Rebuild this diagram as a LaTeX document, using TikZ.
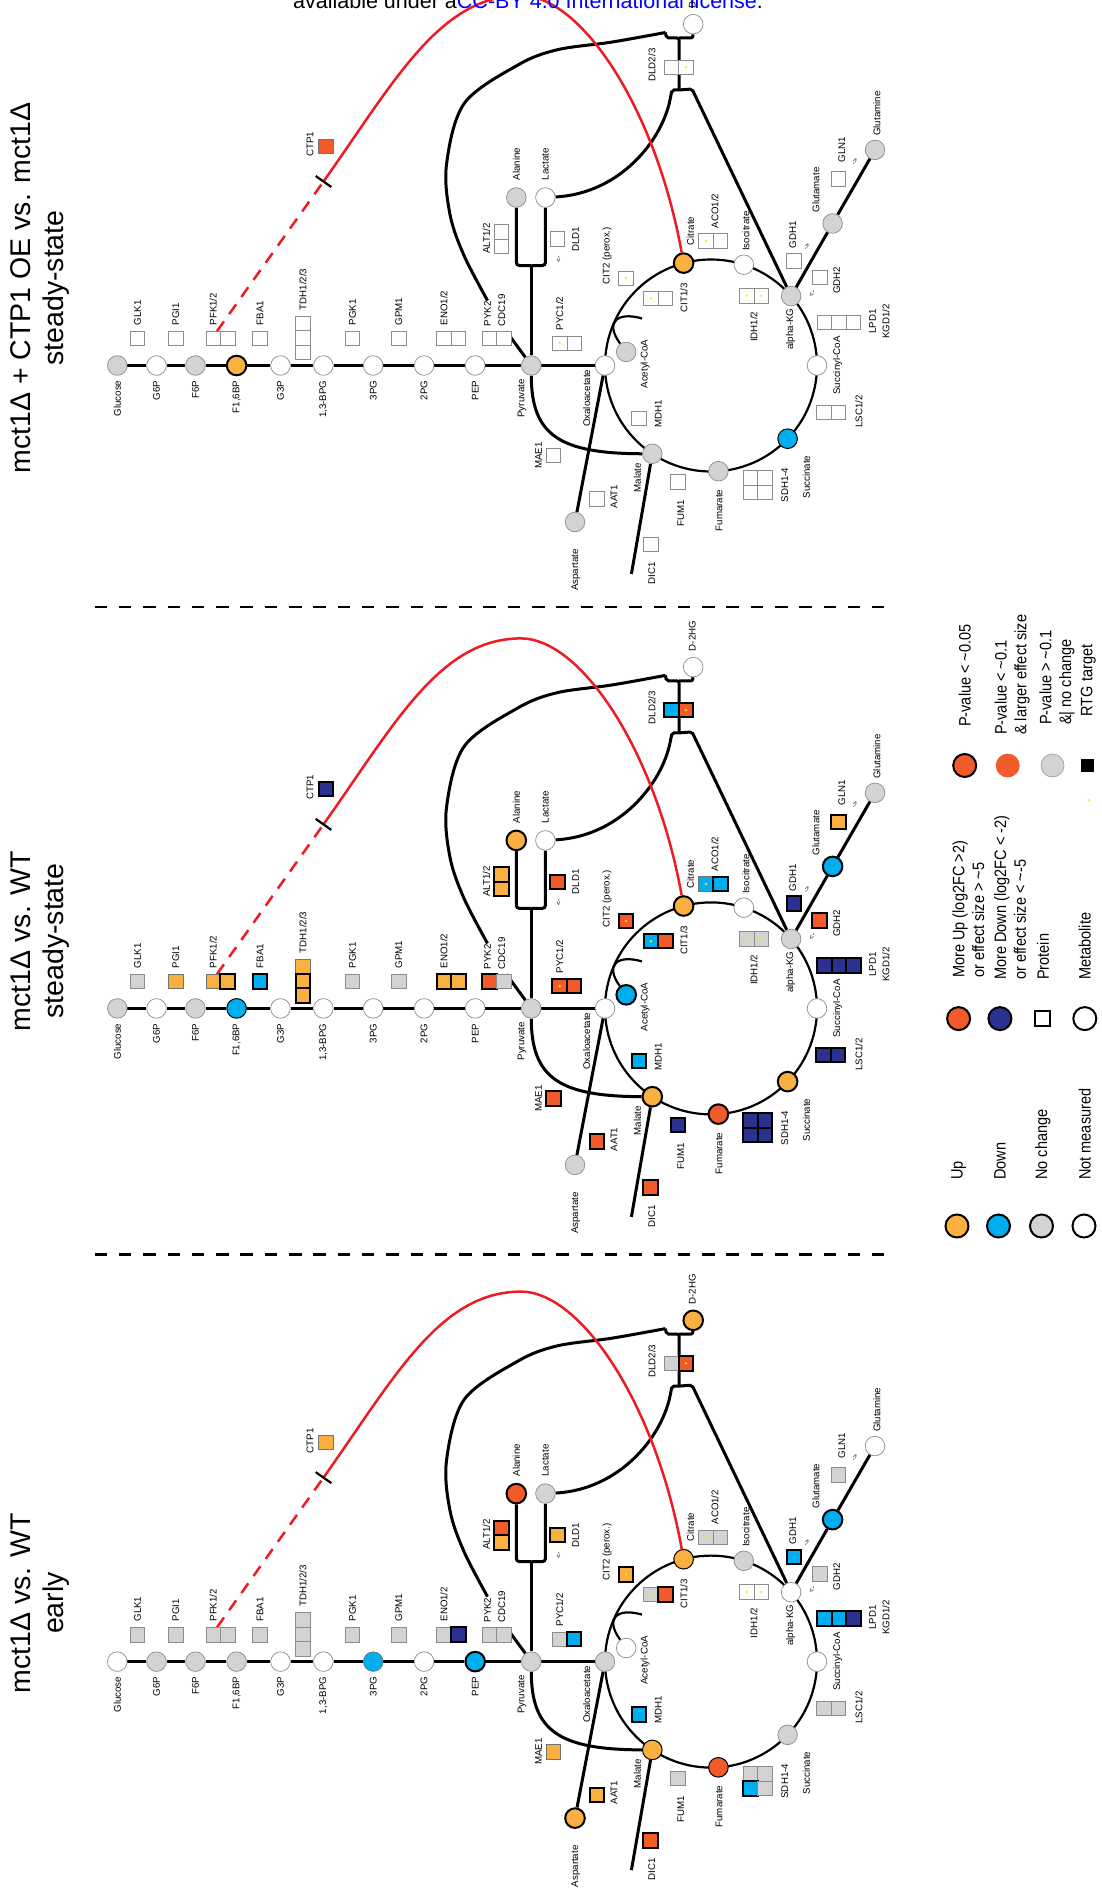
\documentclass[tikz,border=0pt]{standalone}
\usepackage{fontspec}
\setmainfont{Liberation Sans}
\newfontfamily\legfont[FakeStretch=0.88]{Liberation Sans}
\usetikzlibrary{calc}
\pgfdeclarelayer{bg}
\pgfsetlayers{bg,main}

\definecolor{cUp}{RGB}{250,176,64}
\definecolor{cDown}{RGB}{0,174,239}
\definecolor{cNC}{RGB}{209,211,212}
\definecolor{cMUp}{RGB}{241,90,41}
\definecolor{cMDown}{RGB}{43,49,143}
\definecolor{cRed}{RGB}{237,28,36}
\definecolor{cRTG}{RGB}{255,236,0}
\definecolor{cEdge}{RGB}{140,140,140}

\tikzset{
  met/.style={circle, minimum size=19.6pt, inner sep=0pt, draw=cEdge, line width=0.7pt, fill=white},
  prot/.style={rectangle, minimum size=14.5pt, inner sep=0pt, draw=cEdge, line width=0.7pt, fill=white},
  stG/.style={fill=cNC},
  stU/.style={fill=cUp, draw=black!55},
  stD/.style={fill=cDown, draw=black!55},
  stR/.style={fill=cMUp, draw=black!55},
  stN/.style={fill=cMDown, draw=black!55},
  sg/.style={draw=black, line width=2pt},
  thn/.style={draw=black, line width=1pt},
  Us/.style={stU,sg}, Ds/.style={stD,sg}, Rs/.style={stR,sg}, Ns/.style={stN,sg},
  lab/.style={rotate=90, inner sep=0pt, font=\fontsize{9.7}{11}\selectfont},
  arw/.style={inner sep=0pt, font=\fontsize{7}{8}\selectfont},
  ln/.style={line width=3pt},
  cyc/.style={line width=2.2pt},
  ctp/.style={draw=cRed, line width=2.5pt},
  rtg/.style={circle, fill=cRTG, inner sep=0pt, minimum size=2.6pt},
  sepline/.style={line width=2.6pt, dash pattern=on 12.5pt off 11.8pt},
  ttl/.style={rotate=90, inner sep=0pt, align=center, font=\fontsize{28.5}{33}\selectfont},
  leg/.style={rotate=90, inner sep=0pt, font=\legfont\fontsize{16.5}{19.6}\selectfont},
  lgc/.style={circle, minimum size=23pt, inner sep=0pt, line width=2pt, draw=black},
  % default state of every metabolite and protein: not measured
  sGlc/.style={}, sG6P/.style={}, sF6P/.style={}, sFBP/.style={}, sG3P/.style={},
  sBPG/.style={}, sPGc/.style={}, sPGb/.style={}, sPEP/.style={}, sPyr/.style={},
  sAla/.style={}, sLac/.style={}, sDHG/.style={}, sCit/.style={}, sIcit/.style={},
  sAKG/.style={}, sSCoA/.style={}, sSucc/.style={}, sFum/.style={}, sMal/.style={},
  sOAA/.style={}, sACoA/.style={}, sGlu/.style={}, sGln/.style={}, sAsp/.style={},
  sGLK/.style={}, sPGI/.style={}, sPFKa/.style={}, sPFKb/.style={}, sFBA/.style={},
  sTDHa/.style={}, sTDHb/.style={}, sTDHc/.style={}, sPGK/.style={}, sGPM/.style={},
  sENOa/.style={}, sENOb/.style={}, sPYK/.style={}, sCDC/.style={}, sCTP/.style={},
  sALTa/.style={}, sALTb/.style={}, sDLDo/.style={}, sPYCa/.style={}, sPYCb/.style={},
  sCITt/.style={}, sCITa/.style={}, sCITb/.style={}, sACOa/.style={}, sACOb/.style={},
  sIDHa/.style={}, sIDHb/.style={}, sGDHo/.style={}, sGDHt/.style={}, sGLN/.style={},
  sKGDa/.style={}, sKGDb/.style={}, sKGDc/.style={}, sLSCa/.style={}, sLSCb/.style={},
  sSDHa/.style={}, sSDHb/.style={}, sSDHc/.style={}, sSDHd/.style={}, sFUM/.style={},
  sMDH/.style={}, sMAE/.style={}, sAAT/.style={}, sDIC/.style={}, sDLDa/.style={},
  sDLDb/.style={},
}

% one pathway map; y is measured from the glycolysis line
\newcommand\pathwaypanel{%
  % metabolites
  \node[met,sGlc] (Glc) at (117.3,0) {};
  \node[met,sG6P] (G6P) at (156.5,0) {};
  \node[met,sF6P] (F6P) at (195.5,0) {};
  \node[met,sFBP] (FBP) at (236.6,0) {};
  \node[met,sG3P] (G3P) at (280.5,0) {};
  \node[met,sBPG] (BPG) at (323.4,0) {};
  \node[met,sPGc] (PGc) at (373.2,0) {};
  \node[met,sPGb] (PGb) at (424.1,0) {};
  \node[met,sPEP] (PEP) at (475.2,0) {};
  \node[met,sPyr] (Pyr) at (531.3,0) {};
  \node[met,sAla] (Ala) at (516.3,-168) {};
  \node[met,sLac] (Lac) at (545.4,-168) {};
  \node[met,sDHG] (DHG) at (693.2,-341.3) {};
  \node[met,sCit] (Cit) at (683.6,-102.4) {};
  \node[met,sIcit] (Icit) at (743.8,-100.8) {};
  \node[met,sAKG] (AKG) at (791.1,-69.4) {};
  \node[met,sSCoA] (SCoA) at (817,0) {};
  \node[met,sSucc] (Succ) at (787.6,73.2) {};
  \node[met,sFum] (Fum) at (718.4,105.7) {};
  \node[met,sMal] (Mal) at (652.3,88.3) {};
  \node[met,sOAA] (OAA) at (605,0) {};
  \node[met,sACoA] (ACoA) at (626.2,-13.6) {};
  \node[met,sGlu] (Glu) at (832.6,-142) {};
  \node[met,sGln] (Gln) at (875,-215.6) {};
  \node[met,sAsp] (Asp) at (575,156.5) {};
  % metabolite names
  \node[lab,anchor=east] (Glc-t) at (117.3,15) {Glucose};
  \node[lab,anchor=east] (G6P-t) at (156.5,15) {G6P};
  \node[lab,anchor=east] (F6P-t) at (195.5,15) {F6P};
  \node[lab,anchor=east] (FBP-t) at (236.6,15) {F1,6BP};
  \node[lab,anchor=east] (G3P-t) at (280.5,15) {G3P};
  \node[lab,anchor=east] (BPG-t) at (323.4,15) {1,3-BPG};
  \node[lab,anchor=east] (PGc-t) at (373.2,15) {3PG};
  \node[lab,anchor=east] (PGb-t) at (424.1,15) {2PG};
  \node[lab,anchor=east] (PEP-t) at (475.2,15) {PEP};
  \node[lab,anchor=east] (Pyr-t) at (522,13.5) {Pyruvate};
  \node[lab,anchor=west] (Ala-t) at (516.3,-185) {Alanine};
  \node[lab,anchor=west] (Lac-t) at (545.4,-185) {Lactate};
  \node[lab,anchor=west] (DHG-t) at (692.3,-357) {D-2HG};
  \node[lab,anchor=west] (Cit-t) at (690.5,-120) {Citrate};
  \node[lab,anchor=west] (Icit-t) at (746,-114.5) {Isocitrate};
  \node[lab,anchor=east] (AKG-t) at (790.5,-57) {alpha-KG};
  \node[lab] (SCoA-t) at (837.5,0) {Succinyl-CoA};
  \node[lab,anchor=east] (Succ-t) at (806.3,90) {Succinate};
  \node[lab,anchor=east] (Fum-t) at (719.2,124) {Fumarate};
  \node[lab,anchor=east] (Mal-t) at (637.5,97.5) {Malate};
  \node[lab,anchor=east] (OAA-t) at (586.6,4) {Oxaloacetate};
  \node[lab] (ACoA-t) at (645,-1.4) {Acetyl-CoA};
  \node[lab,anchor=west] (Glu-t) at (816,-153) {Glutamate};
  \node[lab,anchor=west] (Gln-t) at (877,-229.6) {Glutamine};
  \node[lab,anchor=east] (Asp-t) at (575.8,183.7) {Aspartate};
  % enzymes
  \node[prot,sGLK] (GLK) at (137.5,-27) {};
  \node[prot,sPGI] (PGI) at (175.7,-27) {};
  \node[prot,sPFKa] (PFKa) at (213.2,-27) {};
  \node[prot,sPFKb] (PFKb) at (227.7,-27) {};
  \node[prot,sFBA] (FBA) at (260,-27) {};
  \node[prot,sTDHa] (TDHa) at (302.9,-42) {};
  \node[prot,sTDHb] (TDHb) at (302.9,-27.5) {};
  \node[prot,sTDHc] (TDHc) at (302.9,-13) {};
  \node[prot,sPGK] (PGK) at (352.5,-27) {};
  \node[prot,sGPM] (GPM) at (398.9,-27) {};
  \node[prot,sENOa] (ENOa) at (443.9,-27) {};
  \node[prot,sENOb] (ENOb) at (458.4,-27) {};
  \node[prot,sPYK] (PYK) at (489.3,-27) {};
  \node[prot,sCDC] (CDC) at (503.8,-27) {};
  \node[prot,sCTP] (CTP) at (326,-219.3) {};
  \node[prot,sALTa] (ALTa) at (501.3,-133.7) {};
  \node[prot,sALTb] (ALTb) at (501.3,-119.2) {};
  \node[prot,sDLDo] (DLDo) at (557.3,-126.5) {};
  \node[prot,sPYCa] (PYCa) at (559.7,-22.4) {};
  \node[prot,sPYCb] (PYCb) at (574.2,-22.4) {};
  \node[prot,sCITt] (CITt) at (626,-87.3) {};
  \node[prot,sCITa] (CITa) at (651,-67.2) {};
  \node[prot,sCITb] (CITb) at (665.5,-67.2) {};
  \node[prot,sACOa] (ACOa) at (706,-124.5) {};
  \node[prot,sACOb] (ACOb) at (720.5,-124.5) {};
  \node[prot,sIDHa] (IDHa) at (746.6,-69.7) {};
  \node[prot,sIDHb] (IDHb) at (761.1,-69.7) {};
  \node[prot,sGDHo] (GDHo) at (794,-104.7) {};
  \node[prot,sGDHt] (GDHt) at (819.6,-88) {};
  \node[prot,sGLN] (GLN) at (838.4,-186.6) {};
  \node[prot,sKGDa] (KGDa) at (824.5,-43) {};
  \node[prot,sKGDb] (KGDb) at (839,-43) {};
  \node[prot,sKGDc] (KGDc) at (853.5,-43) {};
  \node[prot,sLSCa] (LSCa) at (823.7,46.8) {};
  \node[prot,sLSCb] (LSCb) at (838.2,46.8) {};
  \node[prot,sSDHa] (SDHa) at (750.5,112.3) {};
  \node[prot,sSDHb] (SDHb) at (765,112.3) {};
  \node[prot,sSDHc] (SDHc) at (750.5,126.8) {};
  \node[prot,sSDHd] (SDHd) at (765,126.8) {};
  \node[prot,sFUM] (FUM) at (678,116.5) {};
  \node[prot,sMDH] (MDH) at (639,52.7) {};
  \node[prot,sMAE] (MAE) at (553.3,90) {};
  \node[prot,sAAT] (AAT) at (597,133.3) {};
  \node[prot,sDIC] (DIC) at (650.7,179) {};
  \node[prot,sDLDa] (DLDa) at (671.5,-298.3) {};
  \node[prot,sDLDb] (DLDb) at (686,-298.3) {};
  % RTG targets
  \foreach \b in {DLDb,CITt,CITa,ACOa,IDHa,IDHb,PYCa} \node[rtg] (\b-r) at (\b) {};
  % enzyme names
  \node[lab,anchor=west] (GLK-t) at (137.5,-40) {GLK1};
  \node[lab,anchor=west] (PGI-t) at (175.7,-40) {PGI1};
  \node[lab,anchor=west] (PFK-t) at (213.2,-40) {PFK1/2};
  \node[lab,anchor=west] (FBA-t) at (260,-40) {FBA1};
  \node[lab,anchor=west] (TDH-t) at (302.9,-55) {TDH1/2/3};
  \node[lab,anchor=west] (PGK-t) at (352.5,-40) {PGK1};
  \node[lab,anchor=west] (GPM-t) at (398.9,-40) {GPM1};
  \node[lab,anchor=west] (ENO-t) at (443.9,-40) {ENO1/2};
  \node[lab,anchor=west] (PYK-t) at (487.5,-39) {PYK2};
  \node[lab,anchor=west] (CDC-t) at (501.8,-39) {CDC19};
  \node[lab] (CTP-t) at (310,-221) {CTP1};
  \node[lab] (ALT-t) at (486.5,-127) {ALT1/2};
  \node[lab] (DLDo-t) at (575.5,-126.5) {DLD1};
  \node[lab,anchor=west] (PYC-t) at (559.7,-35) {PYC1/2};
  \node[lab,anchor=west] (CITt-t) at (607,-81) {CIT2 (perox.)};
  \node[lab] (CIT-t) at (684,-68) {CIT1/3};
  \node[lab,anchor=west] (ACO-t) at (715,-137) {ACO1/2};
  \node[lab,anchor=east] (IDH-t) at (754,-54) {IDH1/2};
  \node[lab,anchor=west] (GDHo-t) at (792.7,-117) {GDH1};
  \node[lab] (GDHt-t) at (836.8,-85) {GDH2};
  \node[lab,anchor=west] (GLN-t) at (841.8,-203) {GLN1};
  \node[lab] (LPD-t) at (872.6,-44) {LPD1};
  \node[lab] (KGD-t) at (885.9,-44) {KGD1/2};
  \node[lab] (LSC-t) at (859,46) {LSC1/2};
  \node[lab] (SDH-t) at (784.8,119.6) {SDH1-4};
  \node[lab,anchor=east] (FUM-t) at (680.9,134) {FUM1};
  \node[lab] (MDH-t) at (658.3,48) {MDH1};
  \node[lab] (MAE-t) at (538.5,90) {MAE1};
  \node[lab] (AAT-t) at (614,131) {AAT1};
  \node[lab,anchor=east] (DIC-t) at (651.8,196.3) {DIC1};
  \node[lab] (DLD-t) at (651.8,-300.5) {DLD2/3};
  % reaction direction marks
  \node[arw,rotate=90] (DLDo-a) at (558.8,-106) {<-};
  \node[arw,rotate=60.8] (GDHo-a) at (807,-119) {->};
  \node[arw,rotate=60.8] (GDHt-a) at (812.5,-72) {<-};
  \node[arw,rotate=60.8] (GLN-a) at (855,-203.5) {->};
  % reactions
  \begin{pgfonlayer}{bg}
    \draw[ln] (Glc) -- (G6P) -- (F6P) -- (FBP) -- (G3P) -- (BPG) -- (PGc) -- (PGb) -- (PEP) -- (Pyr);
    \draw[ln] (Pyr) -- (OAA);
    \coordinate (jn) at (531.3,-100);
    \draw[ln, rounded corners=3pt] (Ala) |- (jn);
    \draw[ln, rounded corners=3pt] (Lac) |- (jn);
    \draw[ln] (jn) -- (Pyr);
    \draw[ln] (Pyr) .. controls (531.3,70) and (560,88) .. (Mal);
    \draw[ln] (OAA) -- (Asp);
    \coordinate (dicEnd) at (631.4,208.5);
    \draw[ln] (Mal) -- (dicEnd);
    \draw[ln] (AKG) -- (Glu) -- (Gln);
    \coordinate (tca) at (711,0);
    \draw[cyc] (tca) circle[radius=106pt];
    \coordinate (acH) at (642,-47);
    \draw[cyc] (acH) .. controls (618,-54) and (604,-44) .. (ACoA);
    \coordinate (cdcTop) at (506.5,-34);
    \draw[ln] (Pyr) -- (cdcTop);
    \coordinate (cv0) at (487.5,-65);
    \coordinate (cv1) at (665.4,-333);
    \draw[ln] plot[smooth, tension=0.55] coordinates {(cv0) (464,-110) (450,-151) (446.5,-201) (464.3,-262.2) (517.9,-300.5) (557.1,-315.7) (611.7,-323.4) (cv1)};
    \coordinate (dldT) at (679,-327.5);
    \coordinate (dldB) at (679,-275.5);
    \draw[ln, rounded corners=2pt] (cv1) -- (666.5,-327.5) -- (dldT) -- (dldB);
    \draw[ln, rounded corners=2pt] (dldT) -- (692.8,-327.5) -- (DHG);
    \draw[ln, rounded corners=2pt] (Lac) .. controls (620,-172) and (662,-225) .. (670.5,-268) -- (672,-275.5) -- (dldB);
    \draw[ln, rounded corners=2pt] (dldB) -- (692,-276.5) -- (AKG);
    % CTP1 citrate export
    \coordinate (pfkTop) at (217,-34.3);
    \coordinate (tk) at (323.5,-184);
    \draw[ctp, dash pattern=on 12pt off 9pt] (pfkTop) -- (tk);
    \draw[ctp] (tk) .. controls (395,-285) and (440,-370) .. (521,-370) .. controls (580,-370) and (655,-260) .. (Cit);
    \draw[line width=2.2pt] (tk) ++(-7.8,-5.5) -- ++(15.6,11);
  \end{pgfonlayer}
}

\begin{document}
\begin{tikzpicture}[x=1pt, y=-1pt]
  \useasboundingbox (0,0) rectangle (1102,1900);
  \begin{pgfonlayer}{bg}
    \fill[white] (0,0) rectangle (1102,1900);
  \end{pgfonlayer}

  \node[anchor=base west, inner sep=0pt, font=\fontsize{21.5}{24}\selectfont] (hdr) at (293,8.5)
    {available under a\textcolor{blue}{CC-BY 4.0 International license}.};

  % mct1 + CTP1 OE vs. mct1, steady-state
  \begin{scope}[shift={(0,365.5)}, name prefix=a-,
      sGlc/.style={stG}, sF6P/.style={stG}, sFBP/.style={Us}, sPyr/.style={stG},
      sAla/.style={stG}, sCit/.style={Us}, sAKG/.style={stG}, sSucc/.style={stD,thn},
      sFum/.style={stG}, sMal/.style={stG}, sACoA/.style={stG}, sGlu/.style={stG},
      sGln/.style={stG}, sAsp/.style={stG}, sCTP/.style={stR}]
    \pathwaypanel
  \end{scope}

  % mct1 vs. WT, steady-state
  \begin{scope}[shift={(0,1008.4)}, name prefix=b-,
      sGlc/.style={stG}, sF6P/.style={stG}, sFBP/.style={stD,thn}, sPyr/.style={stG},
      sAla/.style={Us}, sCit/.style={Us}, sAKG/.style={stG}, sSucc/.style={Us},
      sFum/.style={Rs}, sMal/.style={Us}, sACoA/.style={Ds}, sGlu/.style={Ds},
      sGln/.style={stG}, sAsp/.style={stG},
      sGLK/.style={stG}, sPGI/.style={stU}, sPFKa/.style={stU}, sPFKb/.style={Us},
      sFBA/.style={Ds}, sTDHa/.style={stU}, sTDHb/.style={Us}, sTDHc/.style={Us},
      sPGK/.style={stG}, sGPM/.style={stG}, sENOa/.style={Us}, sENOb/.style={Us},
      sPYK/.style={Rs}, sCDC/.style={stG}, sCTP/.style={Ns},
      sALTa/.style={Us}, sALTb/.style={Us}, sDLDo/.style={Rs},
      sPYCa/.style={Rs}, sPYCb/.style={Rs}, sCITt/.style={Rs},
      sCITa/.style={Ds}, sCITb/.style={Rs}, sACOa/.style={stD}, sACOb/.style={Ds},
      sIDHa/.style={stG}, sIDHb/.style={stG}, sGDHo/.style={Ns}, sGDHt/.style={Rs},
      sGLN/.style={Us}, sKGDa/.style={Ns}, sKGDb/.style={Ns}, sKGDc/.style={Ns},
      sLSCa/.style={Ns}, sLSCb/.style={Ns}, sSDHa/.style={Ns}, sSDHb/.style={Ns},
      sSDHc/.style={Ns}, sSDHd/.style={Ns}, sFUM/.style={Ns}, sMDH/.style={Ds},
      sMAE/.style={Rs}, sAAT/.style={Rs}, sDIC/.style={Rs},
      sDLDa/.style={Ds}, sDLDb/.style={Rs}]
    \pathwaypanel
  \end{scope}

  % mct1 vs. WT, early
  \begin{scope}[shift={(0,1661.6)}, name prefix=c-,
      sG6P/.style={stG}, sF6P/.style={stG}, sFBP/.style={stG}, sPGc/.style={stD},
      sPEP/.style={Ds}, sPyr/.style={stG}, sAla/.style={Rs}, sLac/.style={stG},
      sDHG/.style={Us}, sCit/.style={stU,thn}, sIcit/.style={stG}, sSucc/.style={stG},
      sFum/.style={stR,thn}, sMal/.style={stU,thn}, sOAA/.style={stG},
      sGlu/.style={Ds}, sAsp/.style={Us},
      sGLK/.style={stG}, sPGI/.style={stG}, sPFKa/.style={stG}, sPFKb/.style={stG},
      sFBA/.style={stG}, sTDHa/.style={stG}, sTDHb/.style={stG}, sTDHc/.style={stG},
      sPGK/.style={stG}, sGPM/.style={stG}, sENOa/.style={stG}, sENOb/.style={Ns},
      sPYK/.style={stG}, sCDC/.style={stG}, sCTP/.style={stU},
      sALTa/.style={Rs}, sALTb/.style={Us}, sDLDo/.style={Us},
      sPYCa/.style={stG}, sPYCb/.style={Ds}, sCITt/.style={Us},
      sCITa/.style={stG}, sCITb/.style={Rs}, sACOa/.style={stG}, sACOb/.style={stG},
      sGDHo/.style={Ds}, sGDHt/.style={stG}, sGLN/.style={stG},
      sKGDa/.style={Ds}, sKGDb/.style={Ds}, sKGDc/.style={Ns},
      sLSCa/.style={stG}, sLSCb/.style={stG}, sSDHa/.style={stG}, sSDHb/.style={stG},
      sSDHc/.style={Ds}, sSDHd/.style={stG}, sFUM/.style={stG}, sMDH/.style={Ds},
      sMAE/.style={stU}, sAAT/.style={Us}, sDIC/.style={Rs},
      sDLDa/.style={stG}, sDLDb/.style={Rs}]
    \pathwaypanel
  \end{scope}

  % panel separators
  \draw[sepline] (94.6,607) -- (884,607);
  \draw[sepline] (94.6,1254.4) -- (884,1254.4);

  % panel titles
  \node[ttl] (t1) at (40,288) {mct1Δ + CTP1 OE vs. mct1Δ\\steady-state};
  \node[ttl] (t2) at (40,941) {mct1Δ vs. WT\\steady-state};
  \node[ttl] (t3) at (40,1603) {mct1Δ vs. WT\\early};

  % legend: significance
  \node[lgc, fill=cMUp] (lg-p1) at (964.7,765.5) {};
  \node[lgc, fill=cMUp, draw=cMUp, line width=0.8pt] (lg-p2) at (1007.7,765.5) {};
  \node[lgc, fill=cNC, draw=black!35, line width=0.8pt] (lg-p3) at (1052.5,765.5) {};
  \node[rectangle, fill=black, inner sep=0pt, minimum size=13pt] (lg-p4) at (1087.3,765.5) {};
  \node[rtg] (lg-p5) at (1088.4,800) {};
  \node[leg, anchor=west] (lg-p1t) at (964.7,727) {P-value < \textasciitilde0.05};
  \node[leg, anchor=west, align=left] (lg-p2t) at (1012.2,735) {P-value < \textasciitilde0.1\\\& larger effect size};
  \node[leg, anchor=west, align=left] (lg-p3t) at (1057,725) {P-value > \textasciitilde0.1\\\&| no change};
  \node[leg, anchor=west] (lg-p4t) at (1088.4,716.5) {RTG target};

  % legend: strong changes and node kinds
  \node[lgc, fill=cMUp] (lg-m1) at (958.6,1018.6) {};
  \node[lgc, fill=cMDown] (lg-m2) at (999.9,1018.6) {};
  \node[rectangle, draw=black, line width=2pt, fill=white, inner sep=0pt, minimum size=15pt] (lg-m3) at (1042.9,1018.6) {};
  \node[lgc, fill=white] (lg-m4) at (1084.8,1018.6) {};
  \node[leg, anchor=west, align=left] (lg-m1t) at (968.3,978) {More Up (log2FC >2)\\or effect size > \textasciitilde5};
  \node[leg, anchor=west, align=left] (lg-m2t) at (1010.1,980) {More Down (log2FC < -2)\\or effect size < \textasciitilde-5};
  \node[leg, anchor=west] (lg-m3t) at (1042.9,980) {Protein};
  \node[leg, anchor=west] (lg-m4t) at (1084.8,980) {Metabolite};

  % legend: direction of change
  \node[lgc, fill=cUp] (lg-d1) at (957,1226) {};
  \node[lgc, fill=cDown] (lg-d2) at (998.5,1226) {};
  \node[lgc, fill=cNC] (lg-d3) at (1041.5,1226) {};
  \node[lgc, fill=white] (lg-d4) at (1084,1226) {};
  \node[leg, anchor=west] (lg-d1t) at (958.6,1180) {Up};
  \node[leg, anchor=west] (lg-d2t) at (999.9,1180) {Down};
  \node[leg, anchor=west] (lg-d3t) at (1042.9,1180) {No change};
  \node[leg, anchor=west] (lg-d4t) at (1084.8,1180) {Not measured};
\end{tikzpicture}
\end{document}
